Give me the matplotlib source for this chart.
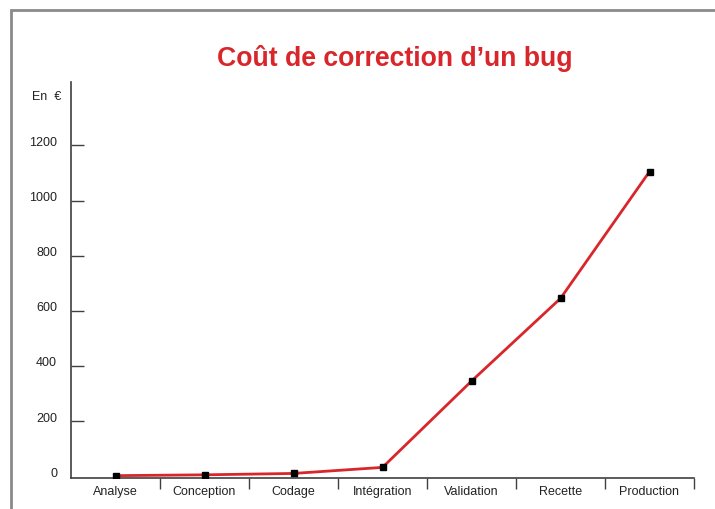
import matplotlib
matplotlib.use("Agg")
import matplotlib.pyplot as plt
import matplotlib.transforms as mtransforms
from matplotlib.patches import Rectangle

categories = ["Analyse", "Conception", "Codage", "Intégration", "Validation", "Recette", "Production"]
costs = [2, 5, 10, 32, 345, 645, 1105]
yticks = [0, 200, 400, 600, 800, 1000, 1200]

plt.rcParams['font.family'] = ['Liberation Sans', 'DejaVu Sans']

fig = plt.figure(figsize=(7.15, 5.1), dpi=100)
W, H = 715, 510

# outer gray frame (extends beyond right/bottom edges)
fig.patches.append(Rectangle((11 / W, -0.1), 1.2, 1 - 11 / H + 0.1, transform=fig.transFigure,
                             fill=False, edgecolor='#8a8a8a', linewidth=2, zorder=0))

ax_left, ax_right = 71 / W, 694 / W
ax_bottom, ax_top = 1 - 479.3 / H, 1 - 83 / H
ax = fig.add_axes([ax_left, ax_bottom, ax_right - ax_left, ax_top - ax_bottom])
ax.patch.set_alpha(0)

x = list(range(len(categories)))
ax.plot(x, costs, color='#d8262a', linewidth=2, zorder=2)
ax.plot(x, costs, linestyle='none', marker='s', markersize=4.2, color='black', zorder=3)

ax.set_xlim(-0.5, len(categories) - 0.5)
ax.set_ylim(-7.6, 1430)

for s in ['top', 'right']:
    ax.spines[s].set_visible(False)
for s in ['left', 'bottom']:
    ax.spines[s].set_color('#404040')
    ax.spines[s].set_linewidth(1.2)

ax.set_yticks(yticks)
ax.set_yticklabels([str(v) for v in yticks])
ax.tick_params(axis='y', direction='in', length=9, width=1, color='#404040',
               labelsize=9, labelcolor='#222222', pad=10)
ax.yaxis.get_major_ticks()[0].tick1line.set_visible(False)
offset = mtransforms.ScaledTranslation(0, 5 / 100, fig.dpi_scale_trans)
for lab in ax.get_yticklabels():
    lab.set_transform(lab.get_transform() + offset)

ax.set_xticks(x)
ax.set_xticklabels(categories)
ax.set_xticks([i + 0.5 for i in x], minor=True)
ax.tick_params(axis='x', which='major', length=0, labelsize=9, labelcolor='#222222', pad=5)
ax.tick_params(axis='x', which='minor', direction='out', length=8, width=1, color='#404040')

fig.text(32 / W, 1 - 97 / H, "En  €", fontsize=9, color='#222222', ha='left', va='center')

fig.text(395 / W, 1 - 59 / H, "Coût de correction d\u2019un bug", fontsize=19.2, fontweight='bold',
         color='#d8262a', ha='center', va='center')

fig.savefig("out.png", dpi=100)
